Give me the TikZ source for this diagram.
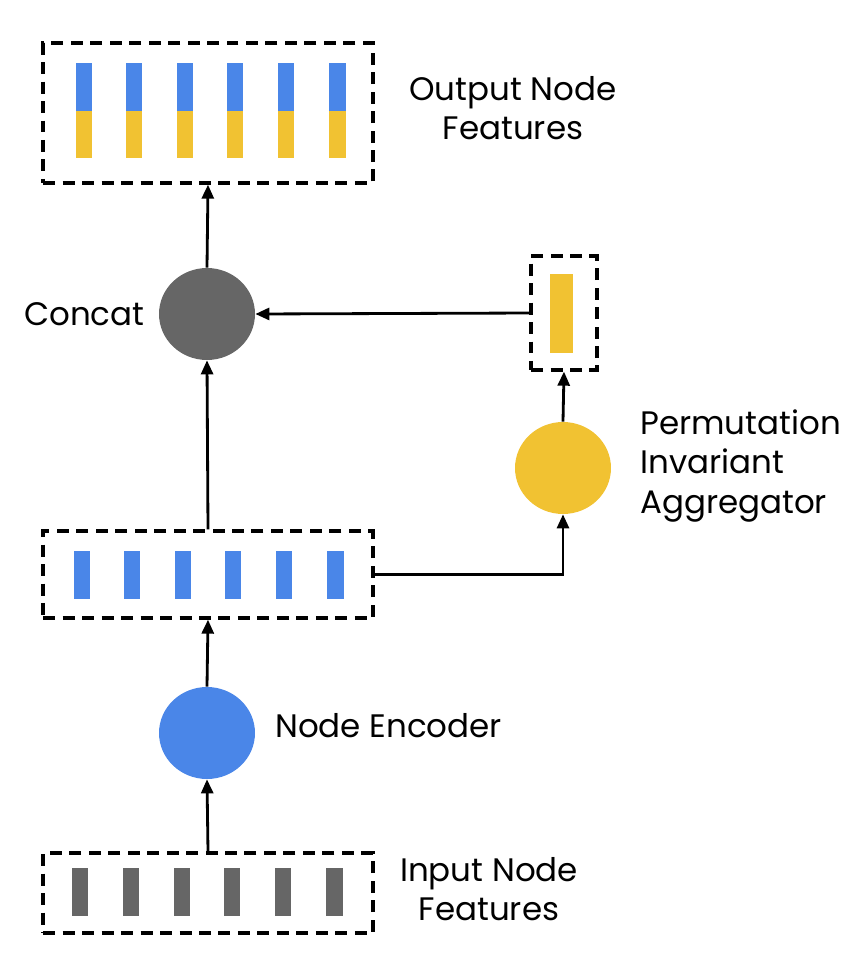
\documentclass[tikz,border=0pt]{standalone}
\usepackage{fontspec}
\setmainfont{Poppins}
\usetikzlibrary{arrows.meta,shapes.geometric}
\definecolor{encblue}{HTML}{4A86E8}
\definecolor{aggyellow}{HTML}{F1C232}
\definecolor{featgray}{HTML}{666666}

\begin{document}
\begin{tikzpicture}[x=0.02cm,y=-0.02cm,
  box/.style={draw,line width=1.9pt,dash pattern=on 0.24cm off 0.15cm,inner sep=0pt},
  blob/.style={ellipse,minimum width=1.92cm,minimum height=1.84cm,inner sep=0pt},
  bar/.style={minimum width=0.34cm,minimum height=0.96cm,inner sep=0pt},
  link/.style={-{Triangle[length=0.28cm,width=0.24cm]},line width=1.6pt},
  lbl/.style={font=\fontsize{18.5}{22.5}\selectfont,align=center}]
\useasboundingbox (0,0) rectangle (858,958);
% boxes
\node [box,minimum width=6.6cm,minimum height=2.8cm] (outbox) at (208,113) {};
\node [box,minimum width=6.6cm,minimum height=1.74cm] (midbox) at (208,574.5) {};
\node [box,minimum width=6.6cm,minimum height=1.6cm] (inbox) at (208,893) {};
\node [box,minimum width=1.32cm,minimum height=2.28cm] (aggbox) at (564,313) {};
% feature bars
\foreach \i/\x in {1/84,2/134,3/185,4/235,5/286,6/337}{
  \node [bar,fill=encblue] (outb\i) at (\x,87) {};
  \node [bar,fill=aggyellow,minimum height=0.94cm] (outy\i) at (\x,134.5) {};
}
\foreach \i/\x in {1/82,2/132,3/183,4/233,5/284,6/335}
  \node [bar,fill=encblue] (midb\i) at (\x,575) {};
\foreach \i/\x in {1/80,2/131,3/182,4/232,5/283,6/334}
  \node [bar,fill=featgray] (inb\i) at (\x,892) {};
\node [bar,fill=aggyellow,minimum width=0.46cm,minimum height=1.58cm] (aggbar) at (561.5,313.5) {};
% operations
\node [blob,fill=featgray] (concat) at (207,314) {};
\node [blob,fill=aggyellow] (agg) at (563,468) {};
\node [blob,fill=encblue] (enc) at (207,733) {};
% labels
\node [lbl] (outlbl) at (513,108) {Output Node\\Features};
\node [lbl,anchor=west] (conlbl) at (18,314) {Concat};
\node [lbl,anchor=west,align=left] (agglbl) at (634,466) {Permutation\\Invariant\\Aggregator};
\node [lbl,anchor=west] (enclbl) at (269,726) {Node Encoder};
\node [lbl] (inlbl) at (489,889) {Input Node\\Features};
% connectors
\draw [link] (inbox.north) -- (enc.south);
\draw [link] (enc.north) -- (midbox.south);
\draw [link] (midbox.north) -- (concat.south);
\draw [link] (concat.north) -- (outbox.south);
\draw [link] (midbox.east) -| (agg.south);
\draw [link] (agg.north) -- (aggbox.south);
\draw [link] (aggbox.west) -- (concat.east);
\end{tikzpicture}
\end{document}
